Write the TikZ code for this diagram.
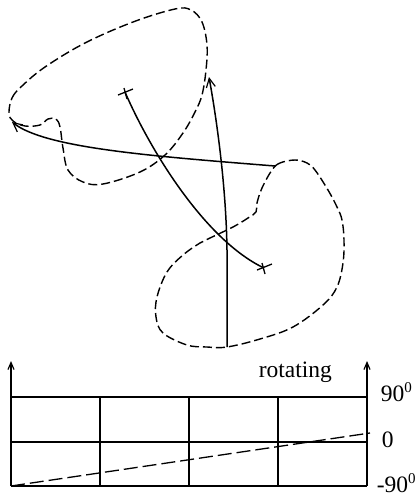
\documentclass[tikz,border=0pt]{standalone}
\usepackage{fontspec}
\setmainfont{Liberation Serif}
\usetikzlibrary{arrows.meta}
\begin{document}
\begin{tikzpicture}[x=1pt,y=-1pt,
  line width=1.5pt,
  blob/.style={dash pattern=on 9pt off 4pt, line width=1.4pt},
  arr/.style={-{Straight Barb[length=9pt,width=9pt,line width=1.2pt]}},
  axarr/.style={-{Straight Barb[length=7pt,width=6pt,line width=1.2pt]}},
  lbl/.style={inner sep=0pt, anchor=base west, font=\fontsize{23.5}{27}\selectfont}]
\useasboundingbox (0,0) rectangle (419,496);
% upper dashed blob
\draw[blob] plot[smooth cycle, tension=0.6] coordinates {
 (9,113) (12,98) (22,86) (45,67) (85,43) (133,22) (175,9) (191,10) (202,22)
 (207,45) (206,70) (202,95) (195,112) (183,133) (165,155) (140,172) (103,184)
 (83,182) (68,170) (63,148) (60,127) (56,119) (48,119) (40,125) (25,126) (13,121)};
% lower dashed blob
\draw[blob] plot[smooth cycle, tension=0.6] coordinates {
 (295,160) (280,163) (272,170) (262,188) (257,203) (256,212) (248,218) (233,227)
 (210,238) (200,243) (183,255) (167,272) (157,297) (156,317) (163,333) (187,345)
 (207,347) (227,347) (260,339) (293,327) (323,305) (337,287) (343,263) (344,240)
 (342,220) (337,207) (328,190) (315,170) (307,163)};
% crosses
\coordinate (c1) at (125,92);
\coordinate (c2) at (264,268);
\draw[line width=1.3pt] (118,95) -- (133,89) (124,88) -- (127,99);
\draw[line width=1.3pt] (257,270) -- (272,264) (262,263) -- (265,274);
% curve between crosses
\draw (c1) .. controls (150,150) and (205,240) .. (c2);
% horizontal arrow
\coordinate (h1) at (275,166);
\coordinate (h2) at (12,122);
\draw[arr] (h1) .. controls (150,156) and (45,148) .. (h2);
% vertical arrow
\coordinate (v1) at (227,347);
\coordinate (v2) at (227,250);
\coordinate (v3) at (209,77);
\draw[arr] (v1) -- (v2) .. controls (226,180) and (215,110) .. (v3);
% chart
\coordinate (a0) at (11,486);
\coordinate (a1) at (11,361);
\coordinate (b0) at (367,486);
\coordinate (b1) at (367,361);
\draw[axarr] (a0) -- (a1);
\draw[axarr] (b0) -- (b1);
\draw (11,397) -- (367,397);
\draw (11,442) -- (367,442);
\draw (11,486) -- (367,486);
\foreach \x in {100,189,278} \draw (\x,397) -- (\x,486);
\draw[dash pattern=on 14pt off 5pt, line width=1.3pt] (a0) -- (370,433);
\node[lbl] (rot) at (258,377) {rotating};
\node[lbl] (p90) at (380,401) {90\raisebox{9pt}{\fontsize{15}{17}\selectfont 0}};
\node[lbl] (z) at (381,447) {0};
\node[lbl] (m90) at (376,492) {-90\raisebox{9pt}{\fontsize{15}{17}\selectfont 0}};
\end{tikzpicture}
\end{document}
